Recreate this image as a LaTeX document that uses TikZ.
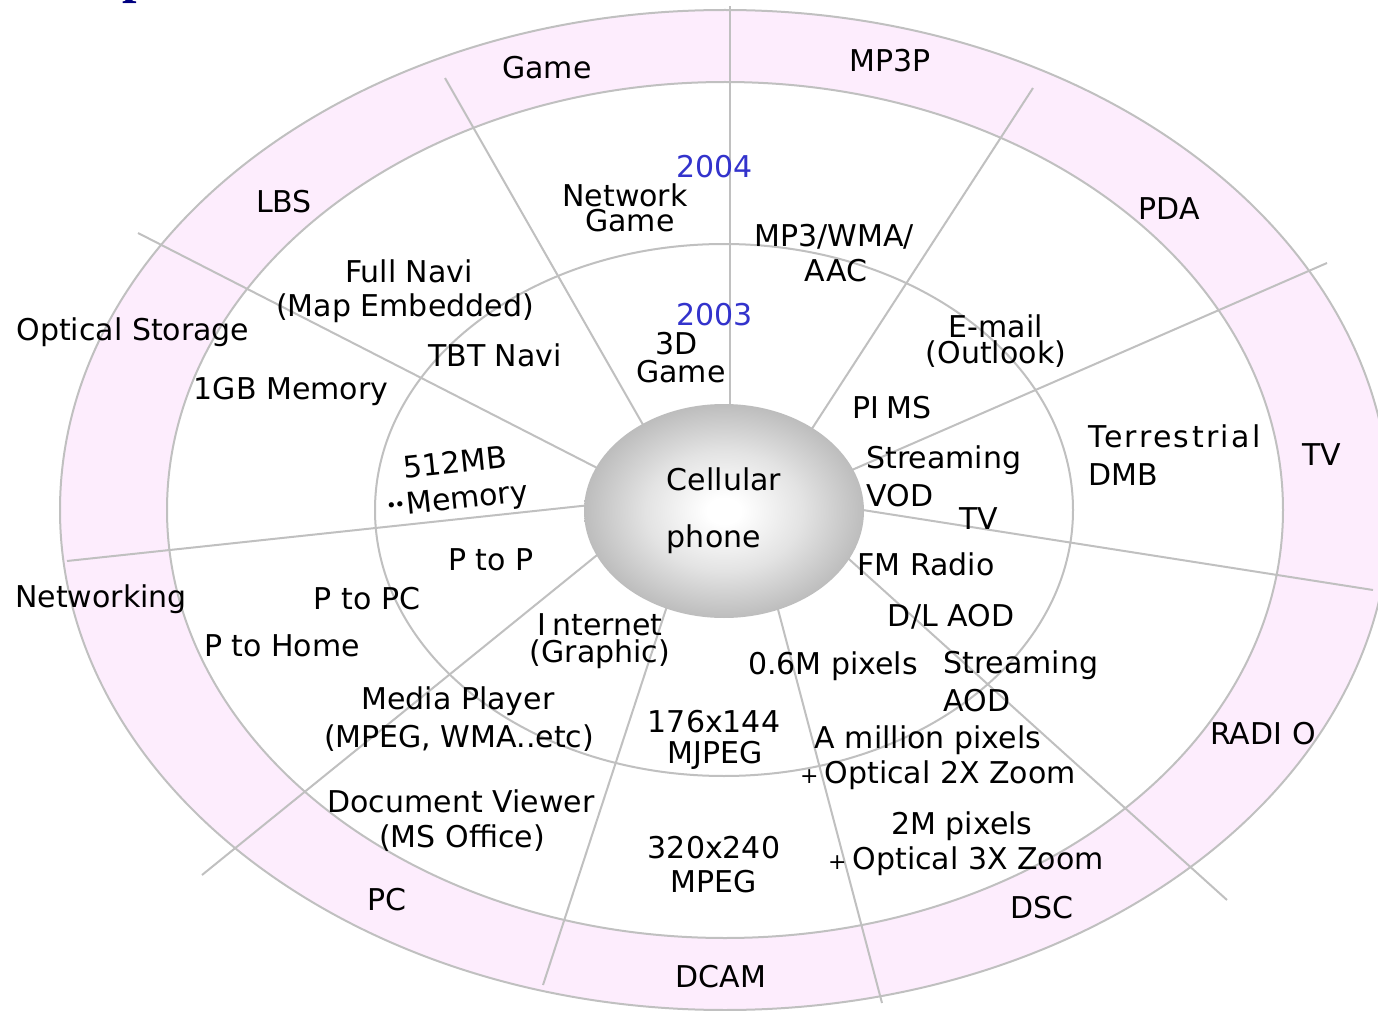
\documentclass[tikz,border=0pt]{standalone}
\usepackage{fontspec}
\setmainfont{DejaVu Sans}
\newfontfamily\titlefont{Liberation Serif}
\usetikzlibrary{shapes.geometric}
\definecolor{bandpink}{RGB}{253,237,253}
\definecolor{rimgray}{RGB}{192,192,192}
\definecolor{yearblue}{RGB}{51,51,204}
\definecolor{titlenavy}{RGB}{0,0,128}
\pgfdeclareradialshading{cellshade}{\pgfpoint{0bp}{0bp}}{color(0bp)=(white); color(3bp)=(white); color(14bp)=(black!11); color(25bp)=(black!26); color(50bp)=(black!26)}
\tikzset{
  lb/.style={font=\fontsize{15}{18}\selectfont, inner sep=0pt, anchor=base},
  lbw/.style={lb, anchor=base west},
  rim/.style={draw=rimgray, line width=1pt},
  spoke/.style={draw=rimgray, line width=1pt},
  yr/.style={lb, text=yearblue},
}
\newcommand{\smallplus}{{\fontsize{11}{11}\selectfont +}\kern3pt}
\begin{document}
\begin{tikzpicture}[x=0.5pt,y=-0.5pt]
\useasboundingbox (0,0) rectangle (1378,1011);
% title fragment
\node[inner sep=0pt, anchor=base west, text=titlenavy, font=\titlefont\bfseries\fontsize{26}{26}\selectfont] (ttl) at (122,-7) {p};
% rings
\path[rim, fill=bandpink] (725,510) ellipse [x radius=665, y radius=500];
\path[rim, fill=white] (725,510) ellipse [x radius=558, y radius=428];
\path[rim] (724,510) ellipse [x radius=349, y radius=266];
% spoke end points
\coordinate (o1) at (730,6);    \coordinate (i1) at (730,420);
\coordinate (o2) at (445,78);   \coordinate (i2) at (650,437);
\coordinate (o3) at (1033,88);  \coordinate (i3) at (804,441);
\coordinate (o4) at (1327,263); \coordinate (i4) at (845,473);
\coordinate (o5) at (1373,590); \coordinate (i5) at (850,508);
\coordinate (o6) at (1227,900); \coordinate (i6) at (840,551);
\coordinate (o7) at (882,1003); \coordinate (i7) at (775,598);
\coordinate (o8) at (543,985);  \coordinate (i8) at (669,600);
\coordinate (o9) at (202,875);  \coordinate (i9) at (607,547);
\coordinate (o10) at (67,561);  \coordinate (i10) at (600,504);
\coordinate (o11) at (138,233); \coordinate (i11) at (607,473);
\foreach \k in {1,...,11} \draw[spoke] (i\k) -- (o\k);
% centre
\node[ellipse, shading=cellshade, minimum width=140pt, minimum height=107pt, inner sep=0pt,
      font=\fontsize{15}{28.5}\selectfont, align=left] (cell) at (724,511) {Cellular\\phone};
% outer band labels
\node[lb] (gameB) at (547,79) {Game};
\node[lb] (mp3pB) at (890,72) {MP3P};
\node[lb] (pdaB) at (1169,220) {PDA};
\node[lb] (tvB) at (1322,465) {TV};
\node[lb] (radioB) at (1263,744) {RADI\kern5pt O};
\node[lb] (dscB) at (1042,918) {DSC};
\node[lb] (dcamB) at (721,987) {DCAM};
\node[lb] (pcB) at (387,910) {PC};
\node[lb] (netB) at (101,607) {Networking};
\node[lb] (optB) at (133,341) {Optical Storage};
\node[lb] (lbsB) at (284,213) {LBS};
% middle ring (2004)
\node[yr] (y2004) at (714.5,177) {2004};
\node[lb] (ng1) at (625,206) {Network};
\node[lb] (ng2) at (630,232) {Game};
\node[lb] (mw1) at (834,247) {MP3/WMA/};
\node[lb] (mw2) at (836,282) {AAC};
\node[lb] (em1) at (996,337) {E-mail};
\node[lb] (em2) at (996,363) {(Outlook)};
\node[lb] (fn1) at (409,283) {Full Navi};
\node[lb] (fn2) at (405,316) {(Map Embedded)};
\node[lb] (gb1) at (291,399) {1GB Memory};
\node[lb] (ph) at (282,656) {P to Home};
\node[lb] (md1) at (458,709) {Media Player};
\node[lb] (md2) at (459,747) {(MPEG, WMA..etc)};
\node[lb] (dv1) at (461,812) {Document Viewer};
\node[lb] (dv2) at (462,847) {(MS Office)};
\node[lb] (mpg1) at (714,858) {320x240};
\node[lb] (mpg2) at (714,892) {MPEG};
\node[lb] (z31) at (962,834) {2M pixels};
\node[lb] (z32) at (966,869) {\smallplus Optical 3X Zoom};
\node[lbw] (dmb1) at (1088,447) {\addfontfeatures{LetterSpace=8}Terrestrial};
\node[lbw] (dmb2) at (1088,485) {DMB};
% inner ring (2003)
\node[yr] (y2003) at (714.5,325) {2003};
\node[lb] (g3d1) at (677,354) {3D};
\node[lb] (g3d2) at (681,382) {Game};
\node[lb] (tbt) at (495,366) {TBT Navi};
\node[lb, rotate=6] (mema) at (456,473) {512MB};
\node[lb, rotate=6] (memb) at (458,509) {\raisebox{1.8pt}{\fontsize{9}{9}\selectfont\textbullet\kern-1pt\textbullet}\kern0.5pt Memory};
\node[lb] (p2p) at (491,570) {P to P};
\node[lb] (p2pc) at (367,609) {P to PC};
\node[lb] (inet1) at (600,635) {I\kern3pt nternet};
\node[lb] (inet2) at (600,662) {(Graphic)};
\node[lb] (dl) at (951,626) {D/L AOD};
\node[lb] (px06) at (833,674) {0.6M pixels};
\node[lbw] (saod1) at (943,673) {Streaming};
\node[lbw] (saod2) at (943,711) {AOD};
\node[lb] (mj1) at (714,732) {176x144};
\node[lb] (mj2) at (715,763) {MJPEG};
\node[lb] (z21) at (928,748) {A million pixels};
\node[lb] (z22) at (938,783) {\smallplus Optical 2X Zoom};
\node[lbw] (fm) at (857,575) {FM Radio};
\node[lb] (tvI) at (979,529) {TV};
\node[lbw] (svod1) at (866,468) {Streaming};
\node[lbw] (svod2) at (866,506) {VOD};
\node[lb] (pims) at (892,418) {PI\kern4pt MS};
\end{tikzpicture}
\end{document}
